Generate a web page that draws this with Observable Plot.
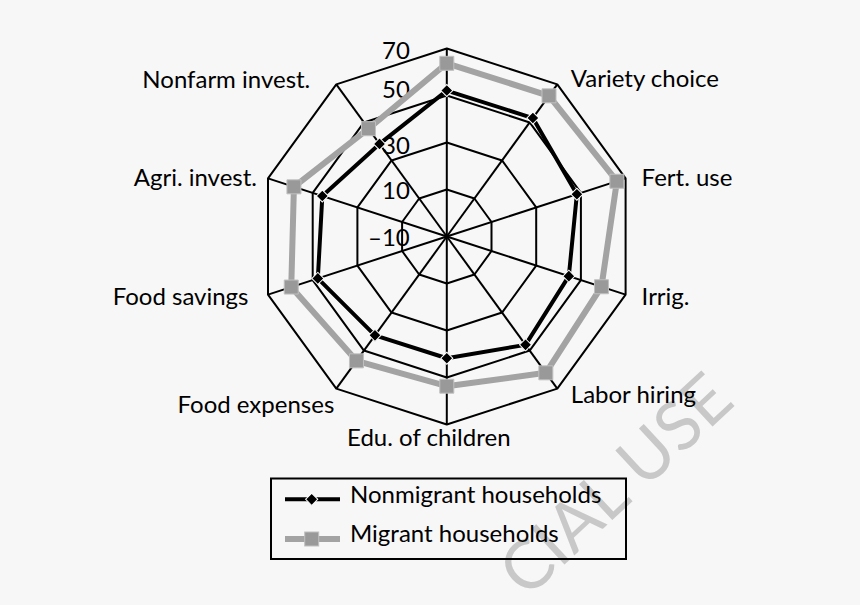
<!DOCTYPE html>
<html>
<head>
<meta charset="utf-8">
<script src="https://cdn.jsdelivr.net/npm/d3@7"></script>
<script src="https://cdn.jsdelivr.net/npm/@observablehq/plot@0.6"></script>
<style>
  html, body { margin: 0; padding: 0; background: #f7f7f7; }
  body { width: 860px; height: 605px; position: relative; overflow: hidden; font-family: Lato, "Open Sans", sans-serif; }
  #under, #chart, #overlay { position: absolute; left: 0; top: 0; }
  #under, #overlay { pointer-events: none; }
</style>
</head>
<body>
<svg id="under" width="860" height="605"></svg>
<div id="chart"></div>
<svg id="overlay" width="860" height="605"></svg>
<script>
// ---- data ----
const categories = ["", "Variety choice", "Fert. use", "Irrig.", "Labor hiring", "Edu. of children", "Food expenses", "Food savings", "Agri. invest.", "Nonfarm invest."];
const nonmigrant = [52.1, 52.3, 48.2, 44.6, 47.0, 41.8, 42.0, 47.7, 45.7, 38.7];
const migrant    = [63.7, 64.0, 66.1, 59.2, 61.7, 53.7, 55.4, 59.6, 58.4, 46.7];
const ringValues = [-10, 10, 30, 50, 70];
const tickLabels = ["\u201310", "10", "30", "50", "70"];
const seriesNames = ["Nonmigrant households", "Migrant households"];

// ---- layout (not data) ----
const W = 860, H = 470, CX = 446.3, CY = 236, RPX = 188;
const labelDx = [0, 13.5, 16, 16, 13.5, -18, -2, -19.5, -11, -26];
const labelDy = [0, -5.5, 0, 3, 7, 14, 17, 3, 0, -4.5];
const tickDy = [2, 1.5, 3.5, -5, 3];
const lineGray = "#a3a3a3", markGray = "#999999", markEdge = "#c0c0c0";

const rScale = d3.scaleLinear().domain([-10, 70]).range([0, 1]);
const n = categories.length;
const ang = i => i * 2 * Math.PI / n;
const px = (v, i) => rScale(v) * Math.sin(ang(i));
const py = (v, i) => rScale(v) * Math.cos(ang(i));

const idx = d3.range(n);
const gridRings = ringValues.filter(v => v > -10).flatMap(v => idx.map(i => ({v, i})));
const migRows = idx.map(i => ({series: seriesNames[1], i, v: migrant[i]}));
const nonRows = idx.map(i => ({series: seriesNames[0], i, v: nonmigrant[i]}));
const anchorOf = i => {
  const s = Math.sin(ang(i));
  return s > 0.1 ? "start" : s < -0.1 ? "end" : "middle";
};

const font = "Lato, 'Open Sans', sans-serif";

// watermark (behind everything)
d3.select("#under").append("text").attr("x", 0).attr("y", 0)
  .attr("transform", "translate(720,386) rotate(-43)")
  .attr("text-anchor", "end").attr("dy", "0.36em")
  .attr("font-family", font).attr("font-size", 68).attr("fill", "#c8c8c8").text("CIAL USE");

const chart = Plot.plot({
  width: W,
  height: H,
  marginLeft: 0, marginRight: 0, marginTop: 0, marginBottom: 0,
  x: {domain: [-CX / RPX, (W - CX) / RPX], axis: null},
  y: {domain: [-(H - CY) / RPX, CY / RPX], axis: null},
  style: {background: "transparent", fontFamily: font, color: "#000"},
  marks: [
    Plot.line(gridRings, {x: d => px(d.v, d.i), y: d => py(d.v, d.i), z: "v", curve: "linear-closed", stroke: "#000", strokeWidth: 2}),
    Plot.link(idx, {x1: () => 0, y1: () => 0, x2: i => px(70, i), y2: i => py(70, i), stroke: "#000", strokeWidth: 2}),
    ...ringValues.map((v, k) => Plot.text([tickLabels[k]], {
      x: () => 0, y: () => py(v, 0), text: d => d,
      textAnchor: "end", dx: -37, dy: tickDy[k], fontSize: 24, fill: "#000"
    })),
    Plot.line(migRows, {x: d => px(d.v, d.i), y: d => py(d.v, d.i), curve: "linear-closed", stroke: lineGray, strokeWidth: 6}),
    Plot.dot(migRows, {x: d => px(d.v, d.i), y: d => py(d.v, d.i), symbol: "square", r: 7.9, fill: markGray, stroke: markEdge, strokeWidth: 1}),
    Plot.line(nonRows, {x: d => px(d.v, d.i), y: d => py(d.v, d.i), curve: "linear-closed", stroke: "#000", strokeWidth: 4}),
    Plot.dot(nonRows, {x: d => px(d.v, d.i), y: d => py(d.v, d.i), symbol: "square", rotate: 45, r: 4.8, fill: "#000", stroke: "#fff", strokeWidth: 1}),
    ...idx.map(i => Plot.text([categories[i]], {
      x: () => px(70, i), y: () => py(70, i), text: d => d,
      textAnchor: anchorOf(i), dx: labelDx[i], dy: labelDy[i], fontSize: 24, fill: "#000"
    }))
  ]
});
document.getElementById("chart").append(chart);

// ---- legend ----
const ov = d3.select("#overlay");
ov.append("rect").attr("x", 271).attr("y", 478.5).attr("width", 355).attr("height", 80.5)
  .attr("fill", "none").attr("stroke", "#000").attr("stroke-width", 2);
const legendRows = [
  {name: seriesNames[0], y: 499.3, base: 502.7, stroke: "#000", sw: 4},
  {name: seriesNames[1], y: 539, base: 541.7, stroke: lineGray, sw: 6}
];
legendRows.forEach((r, k) => {
  ov.append("line").attr("x1", 285).attr("x2", 340).attr("y1", r.y).attr("y2", r.y)
    .attr("stroke", r.stroke).attr("stroke-width", r.sw);
  if (k === 0) {
    ov.append("rect").attr("x", 311.7 - 4.3).attr("y", r.y - 4.3).attr("width", 8.6).attr("height", 8.6)
      .attr("transform", `rotate(45 311.7 ${r.y})`).attr("fill", "#000").attr("stroke", "#fff").attr("stroke-width", 1);
  } else {
    ov.append("rect").attr("x", 311.7 - 7).attr("y", r.y - 7).attr("width", 14).attr("height", 14)
      .attr("fill", markGray).attr("stroke", markEdge).attr("stroke-width", 1);
  }
  ov.append("text").attr("x", 350).attr("y", r.base).text(r.name)
    .attr("font-family", font).attr("font-size", 24).attr("fill", "#000");
});
</script>
</body>
</html>
